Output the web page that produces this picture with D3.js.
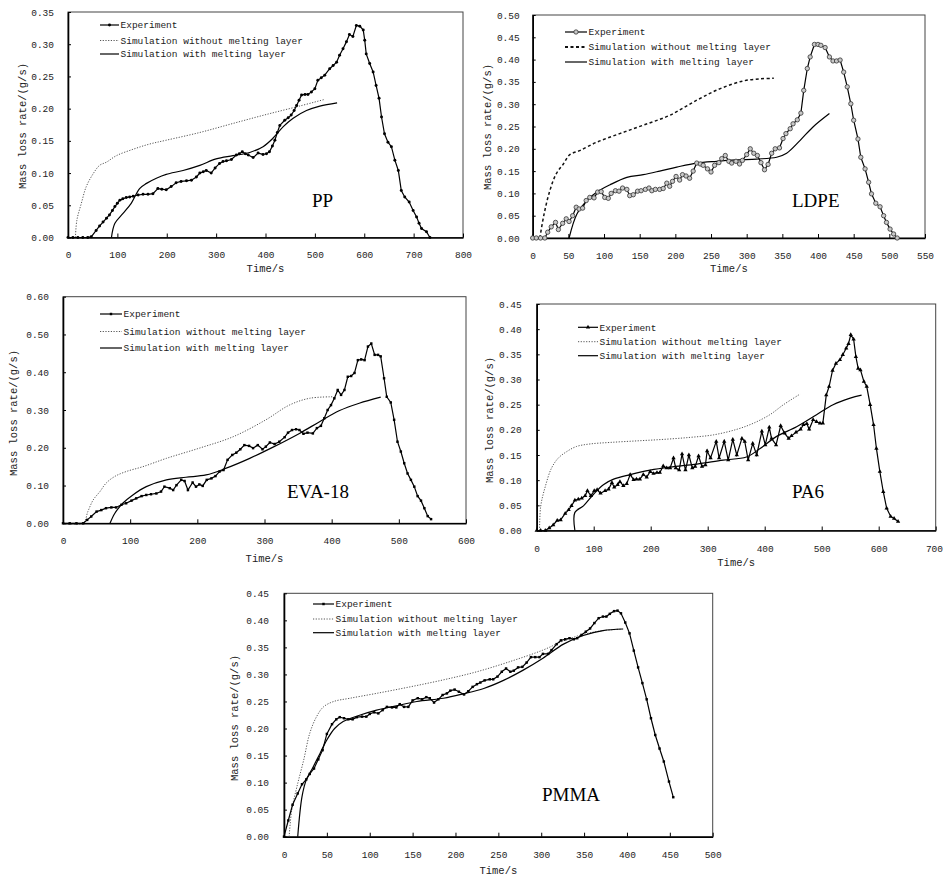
<!DOCTYPE html>
<html>
<head>
<meta charset="utf-8">
<script src="https://cdn.jsdelivr.net/npm/d3@7"></script>
<style>
  body { margin: 0; background: #fff; }
  svg text { font-family: 'Liberation Mono', monospace; fill: #222; }
  .panel-name { font-family: 'Liberation Serif', serif; fill: #000; }
</style>
</head>
<body>
<div class="canvas"></div>
<script>
// ---- data: [time s, mass loss rate g/s] ----
const ppExp = [[0,0],[10,0],[20,0],[30,0],[40,0],[47,0.001],[57,0.011],[64,0.018],[71,0.024],[78,0.03],[84,0.035],[90,0.042],[95,0.048],[100,0.053],[105,0.058],[111,0.06],[118,0.062],[125,0.063],[132,0.064],[142,0.066],[152,0.067],[162,0.067],[172,0.068],[182,0.076],[190,0.075],[199,0.074],[209,0.079],[219,0.085],[229,0.087],[240,0.088],[250,0.089],[260,0.094],[267,0.1],[274,0.102],[280,0.104],[290,0.1],[298,0.108],[307,0.115],[314,0.118],[321,0.119],[331,0.121],[341,0.128],[347,0.13],[353,0.133],[359,0.13],[365,0.128],[375,0.124],[385,0.131],[395,0.129],[402,0.13],[408,0.133],[414,0.142],[419,0.151],[424,0.163],[429,0.174],[439,0.182],[446,0.186],[452,0.19],[458,0.197],[463,0.205],[468,0.213],[473,0.221],[480,0.222],[486,0.222],[493,0.226],[500,0.231],[506,0.244],[513,0.248],[520,0.252],[530,0.262],[537,0.267],[544,0.272],[550,0.283],[557,0.293],[564,0.304],[570,0.315],[577,0.312],[584,0.329],[591,0.328],[598,0.322],[601,0.306],[604,0.285],[611,0.27],[618,0.257],[624,0.236],[630,0.216],[635,0.187],[641,0.161],[648,0.148],[655,0.141],[662,0.12],[669,0.104],[675,0.073],[682,0.063],[691,0.055],[699,0.042],[706,0.032],[711,0.022],[716,0.014],[726,0.009],[733,0]];
const ppNoMelt = [[15,0],[18,0.027],[27,0.053],[37,0.079],[51,0.099],[64,0.112],[78,0.117],[98,0.127],[132,0.137],[165,0.145],[199,0.151],[267,0.163],[334,0.177],[402,0.191],[469,0.204],[518,0.214]];
const ppMelt = [[88,0],[95,0.022],[111,0.037],[128,0.053],[145,0.076],[159,0.084],[179,0.092],[199,0.098],[233,0.104],[267,0.112],[300,0.122],[334,0.127],[368,0.132],[395,0.141],[415,0.154],[436,0.172],[456,0.185],[483,0.197],[510,0.204],[545,0.209]];

const ldpeExp = [[0,0],[5,0],[11,0],[17,0],[21,0.013],[26,0.025],[32,0.035],[36,0.019],[42,0.033],[47,0.043],[51,0.037],[56,0.05],[61,0.069],[65,0.065],[70,0.067],[75,0.084],[80,0.091],[86,0.09],[91,0.103],[96,0.104],[101,0.091],[106,0.089],[110,0.1],[116,0.106],[121,0.105],[126,0.112],[132,0.109],[136,0.095],[141,0.097],[147,0.105],[152,0.106],[158,0.109],[163,0.112],[167,0.106],[172,0.109],[178,0.109],[183,0.111],[188,0.123],[192,0.116],[196,0.127],[201,0.138],[206,0.13],[210,0.142],[215,0.139],[220,0.134],[225,0.15],[230,0.168],[235,0.166],[239,0.163],[245,0.155],[250,0.148],[255,0.163],[261,0.169],[265,0.178],[270,0.185],[275,0.172],[279,0.168],[285,0.172],[290,0.166],[294,0.174],[300,0.187],[305,0.2],[310,0.19],[315,0.185],[320,0.169],[325,0.153],[330,0.165],[335,0.19],[340,0.2],[346,0.202],[351,0.223],[355,0.234],[361,0.245],[365,0.256],[371,0.265],[376,0.28],[380,0.331],[385,0.38],[389,0.406],[395,0.434],[400,0.434],[404,0.432],[410,0.427],[416,0.406],[421,0.397],[426,0.397],[431,0.399],[436,0.372],[441,0.339],[446,0.301],[450,0.264],[456,0.222],[460,0.181],[466,0.155],[471,0.125],[475,0.099],[481,0.078],[487,0.07],[492,0.05],[496,0.035],[501,0.02],[506,0.009],[511,0]];
const ldpeNoMelt = [[10,0],[16,0.054],[24,0.106],[33,0.144],[43,0.166],[52,0.187],[66,0.196],[90,0.215],[122,0.234],[155,0.253],[192,0.275],[230,0.309],[263,0.335],[295,0.352],[319,0.357],[338,0.358]];
const ldpeMelt = [[51,0],[62,0.054],[76,0.084],[90,0.103],[108,0.119],[132,0.136],[155,0.142],[178,0.15],[202,0.159],[230,0.168],[258,0.172],[286,0.175],[314,0.177],[342,0.181],[356,0.19],[375,0.219],[393,0.249],[416,0.279]];

const evaExp = [[0,0],[10,0],[20,0],[30,0],[36,0.009],[42,0.018],[50,0.031],[57,0.035],[64,0.04],[72,0.042],[79,0.042],[87,0.049],[94,0.053],[102,0.06],[109,0.066],[117,0.072],[124,0.075],[131,0.077],[139,0.079],[146,0.084],[151,0.097],[159,0.093],[164,0.088],[169,0.101],[176,0.115],[181,0.112],[186,0.088],[193,0.108],[198,0.097],[203,0.103],[208,0.099],[214,0.115],[221,0.119],[227,0.125],[233,0.137],[239,0.141],[245,0.168],[252,0.181],[258,0.187],[264,0.196],[270,0.207],[277,0.205],[283,0.199],[290,0.207],[297,0.196],[302,0.203],[308,0.214],[315,0.21],[322,0.216],[330,0.228],[335,0.24],[341,0.247],[347,0.249],[352,0.247],[358,0.237],[364,0.24],[372,0.238],[378,0.252],[384,0.258],[389,0.278],[394,0.3],[399,0.313],[404,0.331],[409,0.353],[414,0.34],[419,0.353],[424,0.388],[429,0.39],[434,0.398],[439,0.432],[444,0.434],[449,0.432],[454,0.468],[459,0.476],[464,0.446],[469,0.446],[473,0.442],[478,0.384],[482,0.335],[488,0.32],[493,0.274],[498,0.216],[503,0.19],[508,0.159],[513,0.132],[518,0.115],[523,0.097],[528,0.072],[533,0.06],[538,0.04],[543,0.019],[548,0.011]];
const evaNoMelt = [[0,0],[30,0],[37,0.031],[45,0.062],[55,0.084],[64,0.106],[77,0.124],[94,0.137],[119,0.15],[154,0.172],[203,0.199],[253,0.229],[302,0.274],[337,0.313],[367,0.331],[402,0.335]];
const evaMelt = [[70,0],[77,0.026],[89,0.053],[104,0.075],[124,0.097],[154,0.115],[183,0.122],[213,0.128],[243,0.146],[278,0.172],[312,0.201],[352,0.238],[382,0.269],[411,0.298],[441,0.318],[473,0.334]];

const pa6Exp = [[0,0],[7,0],[15,0],[22,0.005],[29,0.011],[36,0.02],[42,0.021],[50,0.034],[56,0.041],[61,0.049],[67,0.06],[73,0.062],[79,0.064],[85,0.069],[89,0.079],[95,0.069],[101,0.079],[106,0.081],[112,0.074],[120,0.079],[126,0.082],[132,0.095],[136,0.086],[142,0.091],[146,0.097],[152,0.089],[158,0.093],[164,0.111],[170,0.101],[175,0.102],[181,0.102],[187,0.111],[193,0.106],[199,0.117],[205,0.113],[211,0.115],[216,0.115],[222,0.128],[228,0.124],[234,0.124],[240,0.144],[244,0.124],[250,0.12],[255,0.152],[261,0.12],[267,0.15],[273,0.124],[278,0.127],[284,0.148],[290,0.127],[296,0.13],[299,0.158],[305,0.144],[315,0.177],[320,0.144],[329,0.177],[336,0.14],[344,0.181],[351,0.15],[360,0.183],[365,0.177],[371,0.14],[379,0.173],[386,0.15],[395,0.197],[401,0.17],[408,0.205],[412,0.183],[420,0.17],[428,0.208],[435,0.193],[442,0.183],[447,0.188],[455,0.195],[463,0.201],[468,0.21],[474,0.212],[478,0.201],[485,0.22],[491,0.216],[497,0.213],[502,0.213],[508,0.269],[513,0.286],[519,0.318],[525,0.332],[532,0.339],[537,0.349],[543,0.362],[547,0.371],[551,0.389],[556,0.38],[560,0.345],[564,0.322],[568,0.319],[574,0.296],[579,0.286],[585,0.25],[591,0.21],[596,0.163],[602,0.117],[608,0.077],[614,0.044],[621,0.028],[627,0.024],[634,0.018]];
const pa6NoMelt = [[5,0],[7,0.048],[15,0.087],[26,0.124],[38,0.144],[53,0.157],[70,0.167],[94,0.172],[129,0.175],[175,0.178],[222,0.181],[269,0.185],[310,0.19],[351,0.201],[380,0.213],[409,0.23],[433,0.25],[462,0.271]];
const pa6Melt = [[67,0],[67,0.036],[82,0.049],[99,0.071],[117,0.091],[135,0.102],[164,0.111],[199,0.12],[234,0.126],[281,0.132],[327,0.14],[368,0.146],[392,0.163],[421,0.187],[456,0.206],[491,0.23],[520,0.25],[550,0.263],[570,0.269]];

const pmmaExp = [[0,0],[5,0.03],[10,0.059],[16,0.08],[21,0.097],[26,0.106],[30,0.116],[35,0.126],[40,0.143],[45,0.16],[50,0.19],[56,0.208],[61,0.217],[65,0.221],[70,0.219],[75,0.217],[80,0.217],[85,0.221],[91,0.222],[96,0.222],[100,0.227],[105,0.23],[110,0.228],[115,0.234],[120,0.24],[126,0.239],[131,0.239],[135,0.245],[140,0.24],[145,0.24],[150,0.252],[156,0.256],[161,0.254],[166,0.258],[170,0.256],[175,0.248],[180,0.254],[185,0.262],[190,0.265],[194,0.27],[199,0.272],[204,0.268],[210,0.263],[215,0.269],[220,0.277],[225,0.282],[229,0.285],[234,0.289],[240,0.291],[244,0.291],[249,0.296],[254,0.305],[259,0.311],[264,0.305],[268,0.307],[273,0.313],[278,0.314],[283,0.322],[288,0.332],[293,0.332],[298,0.332],[302,0.338],[308,0.338],[312,0.345],[318,0.356],[323,0.363],[328,0.365],[333,0.367],[338,0.365],[342,0.367],[347,0.373],[352,0.379],[357,0.385],[362,0.395],[367,0.404],[372,0.407],[376,0.407],[380,0.412],[385,0.417],[389,0.418],[393,0.413],[398,0.396],[403,0.376],[408,0.344],[413,0.313],[418,0.284],[423,0.254],[428,0.219],[433,0.188],[438,0.163],[443,0.139],[449,0.102],[454,0.073]];
const pmmaNoMelt = [[6,0],[9,0.049],[15,0.092],[23,0.142],[30,0.191],[38,0.222],[46,0.24],[58,0.25],[77,0.256],[108,0.265],[147,0.277],[186,0.29],[225,0.305],[264,0.324],[302,0.345],[326,0.362],[349,0.374],[372,0.381],[396,0.384]];
const pmmaMelt = [[16,0],[21,0.074],[26,0.105],[34,0.129],[42,0.154],[50,0.179],[59,0.2],[69,0.213],[89,0.225],[108,0.234],[131,0.242],[155,0.25],[186,0.256],[209,0.264],[233,0.274],[256,0.289],[279,0.308],[302,0.33],[326,0.356],[349,0.372],[372,0.381],[395,0.384]];

// ---- tick values ----
const ppXTicks = [0,100,200,300,400,500,600,700,800];
const ppYTicks = [0,0.05,0.1,0.15,0.2,0.25,0.3,0.35];
const ldpeXTicks = [0,50,100,150,200,250,300,350,400,450,500,550];
const ldpeYTicks = [0,0.05,0.1,0.15,0.2,0.25,0.3,0.35,0.4,0.45,0.5];
const evaXTicks = [0,100,200,300,400,500,600];
const evaYTicks = [0,0.1,0.2,0.3,0.4,0.5,0.6];
const pa6XTicks = [0,100,200,300,400,500,600,700];
const pa6YTicks = [0,0.05,0.1,0.15,0.2,0.25,0.3,0.35,0.4,0.45];
const pmmaXTicks = [0,50,100,150,200,250,300,350,400,450,500];
const pmmaYTicks = [0,0.05,0.1,0.15,0.2,0.25,0.3,0.35,0.4,0.45];

const seriesNames = ['Experiment', 'Simulation without melting layer', 'Simulation with melting layer'];

// ---- panel layout (pixel boxes) ----
const panels = [
  { name: 'PP', exp: ppExp, noMelt: ppNoMelt, melt: ppMelt, xTicks: ppXTicks, yTicks: ppYTicks,
    box: { l: 68, t: 12, r: 463, b: 237.5 }, xTickY: 255, timeY: 268, yLab: [22, 126], yGap: 14,
    leg: { x0: 100, x1: 119, rows: [25, 40.5, 54] }, label: [312, 207], marker: 'dot' },
  { name: 'LDPE', exp: ldpeExp, noMelt: ldpeNoMelt, melt: ldpeMelt, xTicks: ldpeXTicks, yTicks: ldpeYTicks,
    box: { l: 532.7, t: 15, r: 925, b: 238 }, xTickY: 255.5, timeY: 268, yLab: [487, 127], yGap: 13,
    leg: { x0: 565, x1: 587, rows: [32, 47, 62] }, label: [792, 207], marker: 'ring', dashed: true },
  { name: 'EVA-18', exp: evaExp, noMelt: evaNoMelt, melt: evaMelt, xTicks: evaXTicks, yTicks: evaYTicks,
    box: { l: 63, t: 296.7, r: 466, b: 523.3 }, xTickY: 541, timeY: 558, yLab: [13, 413], yGap: 14,
    leg: { x0: 100, x1: 122, rows: [314, 331.5, 348] }, label: [287, 498], marker: 'square' },
  { name: 'PA6', exp: pa6Exp, noMelt: pa6NoMelt, melt: pa6Melt, xTicks: pa6XTicks, yTicks: pa6YTicks,
    box: { l: 536.7, t: 304, r: 935.7, b: 530.5 }, xTickY: 548.3, timeY: 562, yLab: [489, 420], yGap: 15,
    leg: { x0: 578, x1: 598, rows: [327.3, 341.7, 355.7] }, label: [792, 498], marker: 'triangle' },
  { name: 'PMMA', exp: pmmaExp, noMelt: pmmaNoMelt, melt: pmmaMelt, xTicks: pmmaXTicks, yTicks: pmmaYTicks,
    box: { l: 284, t: 593.3, r: 712.7, b: 836.7 }, xTickY: 855, timeY: 870, yLab: [234, 718], yGap: 15,
    leg: { x0: 313, x1: 334, rows: [604, 619, 632.7] }, label: [542, 801], marker: 'square' }
];

const pageWidth = 943;

const svg = d3.select('.canvas')
  .append('svg')
  .attr('width', pageWidth)
  .attr('height', 878);

const symbolFor = {
  dot: d3.symbol().type(d3.symbolCircle).size(7),
  ring: d3.symbol().type(d3.symbolCircle).size(15),
  square: d3.symbol().type(d3.symbolSquare).size(6),
  triangle: d3.symbol().type(d3.symbolTriangle).size(8)
};

const markerFill = m => m === 'ring' ? '#c8c8c8' : '#000';
const markerStroke = m => m === 'ring' ? '#333' : 'none';

const drawPanel = p => {
  const g = svg.append('g').attr('class', 'panel');
  const { l, t, r, b } = p.box;
  const xMax = d3.max(p.xTicks);
  const yMax = d3.max(p.yTicks);

  const x = d3.scaleLinear().domain([0, xMax]).range([l, r]);
  const y = d3.scaleLinear().domain([0, yMax]).range([b, t]);

  // frame
  g.append('rect')
    .attr('x', l).attr('y', t)
    .attr('width', r - l).attr('height', b - t)
    .attr('fill', 'none')
    .attr('stroke', '#444')
    .attr('stroke-width', 1);

  // axes (ticks point into the plot)
  const xAxis = d3.axisBottom(x)
    .tickValues(p.xTicks)
    .tickSizeInner(-4)
    .tickSizeOuter(0)
    .tickFormat(d3.format('d'));

  const yAxis = d3.axisLeft(y)
    .tickValues(p.yTicks)
    .tickSizeInner(-3)
    .tickSizeOuter(0)
    .tickFormat(d3.format('.2f'));

  const xg = g.append('g')
    .attr('transform', `translate(0, ${b})`)
    .call(xAxis);
  xg.selectAll('text')
    .attr('y', p.xTickY - b)
    .attr('dy', '0.35em')
    .attr('font-size', 9.5);
  // keep the last label inside the page
  xg.selectAll('.tick').each(function(d) {
    if (x(d) + 9 > pageWidth) {
      d3.select(this).select('text')
        .attr('text-anchor', 'end')
        .attr('x', pageWidth - 0.5 - x(d));
    }
  });

  const yg = g.append('g')
    .attr('transform', `translate(${l}, 0)`)
    .call(yAxis);
  yg.selectAll('text')
    .attr('x', -p.yGap)
    .attr('font-size', 9.5);

  [xg, yg].forEach(ax => {
    ax.select('.domain').attr('stroke', '#000').attr('stroke-width', 1.6);
    ax.selectAll('.tick line').attr('stroke', '#000');
    ax.attr('font-family', null);
  });

  // axis titles
  g.append('text')
    .attr('x', (l + r) / 2)
    .attr('y', p.timeY)
    .attr('dy', '0.35em')
    .attr('text-anchor', 'middle')
    .attr('font-size', 10.5)
    .text('Time/s');

  g.append('text')
    .attr('transform', `translate(${p.yLab[0]}, ${p.yLab[1]}) rotate(-90)`)
    .attr('dy', '0.35em')
    .attr('text-anchor', 'middle')
    .attr('font-size', 10.5)
    .text('Mass loss rate/(g/s)');

  // lines
  const linear = d3.line().x(d => x(d[0])).y(d => y(d[1]));
  const smooth = d3.line().x(d => x(d[0])).y(d => y(d[1])).curve(d3.curveCatmullRom.alpha(0.5));

  const noMeltStyle = p.dashed
    ? { stroke: '#111', width: 1.5, dash: '3,2.5' }
    : { stroke: '#555', width: 1, dash: '1.2,1.5' };

  g.append('path')
    .datum(p.noMelt)
    .attr('fill', 'none')
    .attr('stroke', noMeltStyle.stroke)
    .attr('stroke-width', noMeltStyle.width)
    .attr('stroke-dasharray', noMeltStyle.dash)
    .attr('d', smooth);

  g.append('path')
    .datum(p.melt)
    .attr('fill', 'none')
    .attr('stroke', '#000')
    .attr('stroke-width', 1.2)
    .attr('d', smooth);

  g.append('path')
    .datum(p.exp)
    .attr('fill', 'none')
    .attr('stroke', '#000')
    .attr('stroke-width', 1.2)
    .attr('d', linear);

  const sym = symbolFor[p.marker];
  g.selectAll('path.pt')
    .data(p.exp)
    .enter()
    .append('path')
      .attr('class', 'pt')
      .attr('transform', d => `translate(${x(d[0])}, ${y(d[1])})`)
      .attr('d', sym)
      .attr('fill', markerFill(p.marker))
      .attr('stroke', markerStroke(p.marker))
      .attr('stroke-width', 0.8);

  // legend
  const leg = g.append('g');
  p.leg.rows.forEach((ry, i) => {
    const ln = leg.append('line')
      .attr('x1', p.leg.x0).attr('x2', p.leg.x1)
      .attr('y1', ry).attr('y2', ry)
      .attr('stroke', '#000')
      .attr('stroke-width', 1.2);
    if (i === 1) {
      ln.attr('stroke', noMeltStyle.stroke)
        .attr('stroke-width', noMeltStyle.width + (p.dashed ? 0.5 : 0))
        .attr('stroke-dasharray', noMeltStyle.dash);
    }
    if (i === 0) {
      leg.append('path')
        .attr('transform', `translate(${(p.leg.x0 + p.leg.x1) / 2}, ${ry})`)
        .attr('d', sym)
        .attr('fill', markerFill(p.marker))
        .attr('stroke', markerStroke(p.marker))
        .attr('stroke-width', 0.8);
    }
    leg.append('text')
      .attr('x', p.leg.x1 + 1.5)
      .attr('y', ry)
      .attr('dy', '0.35em')
      .attr('font-size', 9.5)
      .text(seriesNames[i]);
  });

  // material label
  g.append('text')
    .attr('class', 'panel-name')
    .attr('x', p.label[0])
    .attr('y', p.label[1])
    .attr('font-size', 19)
    .text(p.name);
};

panels.forEach(drawPanel);
</script>
</body>
</html>
